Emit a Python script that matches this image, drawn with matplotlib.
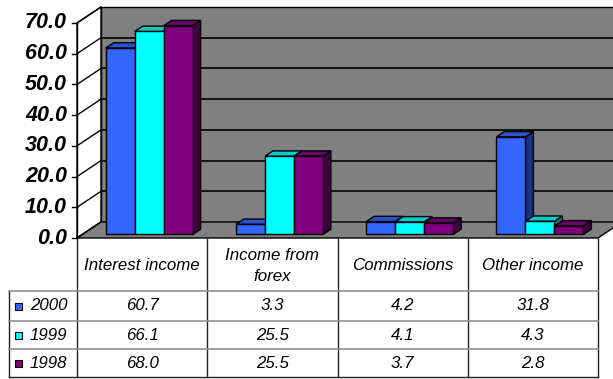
import matplotlib
matplotlib.use('Agg')
import matplotlib.pyplot as plt
from matplotlib.patches import Polygon, Rectangle
from matplotlib.transforms import ScaledTranslation
from matplotlib.colors import to_rgb

plt.rcParams['font.family'] = ['Liberation Sans', 'DejaVu Sans']

# Income structure, % of total
categories = ['Interest income', 'Income from\nforex', 'Commissions', 'Other income']
years = ['2000', '1999', '1998']
values_2000 = [60.7, 3.3, 4.2, 31.8]
values_1999 = [66.1, 25.5, 4.1, 4.3]
values_1998 = [68.0, 25.5, 3.7, 2.8]
y_ticks = [0, 10, 20, 30, 40, 50, 60, 70]

series = [values_2000, values_1999, values_1998]
colors = ['#3366FF', '#00FFFF', '#800080']
WALL = '#808080'


def shade(color, k):
    r, g, b = to_rgb(color)
    return (r * k, g * k, b * k)


W, H = 613, 379
fig = plt.figure(figsize=(W / 100, H / 100), dpi=100)

# front plane of the 3d box, in pixels: x 77..598, y 23..238
left, right, top, bottom = 77, 598, 23, 238
ax = fig.add_axes([left / W, 1 - bottom / H, (right - left) / W, (bottom - top) / H])
ax.set_xlim(0, len(categories))
ax.set_ylim(0, 70)
ax.axis('off')

col_px = (right - left) / len(categories)
DX = 24 / col_px            # depth offset in category units
DY = 16 / (bottom - top) * 70  # depth offset in value units


def poly(pts, fc, ec='black', lw=1.0, z=1):
    ax.add_patch(Polygon(pts, closed=True, facecolor=fc, edgecolor=ec,
                         linewidth=lw, clip_on=False, zorder=z,
                         joinstyle='miter'))


n = len(categories)
# walls and floor
poly([(DX, DY), (n + DX, DY), (n + DX, 70 + DY), (DX, 70 + DY)], WALL)
poly([(0, 0), (DX, DY), (DX, 70 + DY), (0, 70)], 'white')
poly([(0, 0), (n, 0), (n + DX, DY), (DX, DY)], WALL)

for v in y_ticks[1:-1]:
    ax.plot([DX, n + DX], [v + DY, v + DY], color='black', lw=1.2,
            clip_on=False, zorder=2)
for v in y_ticks:
    ax.plot([0, DX], [v, v + DY], color='black', lw=1.0, clip_on=False, zorder=2)
    ax.plot([-5 / col_px, 0], [v, v], color='black', lw=1.0, clip_on=False, zorder=2)
    off = ScaledTranslation(-10 / 100, 0, fig.dpi_scale_trans)
    ax.text(0, v, f'{v:.1f}', transform=ax.transData + off, ha='right',
            va='center', fontsize=15.5, fontweight='bold', style='italic')
ax.plot([0, 0], [0, 70], color='black', lw=1.0, clip_on=False, zorder=2)

# 3d columns
start, w = 0.18, 29 / col_px
d0, d1 = 0.22, 0.55
for j in range(n):
    for i, vals in enumerate(series):
        v = vals[j]
        x0 = j + start + i * w
        fx, fy = x0 + d0 * DX, d0 * DY
        bx, by = x0 + d1 * DX, d1 * DY
        c = colors[i]
        poly([(fx + w, fy), (bx + w, by), (bx + w, v + by), (fx + w, v + fy)],
             shade(c, 0.5), z=3)
        poly([(fx, v + fy), (fx + w, v + fy), (bx + w, v + by), (bx, v + by)],
             shade(c, 0.8), z=3)
        poly([(fx, fy), (fx + w, fy), (fx + w, v + fy), (fx, v + fy)], c, z=3)

# data table below the chart
tab = fig.add_axes([0, 0, 1, 1], zorder=-1)
tab.set_xlim(0, W)
tab.set_ylim(H, 0)
tab.axis('off')

row_edges = [239, 291, 321, 349, 377]
col_edges = [left + k * col_px for k in range(n + 1)]
label_left = 9

for x in col_edges:
    tab.plot([x, x], [row_edges[0], row_edges[-1]], color='#202020', lw=1.0)
tab.plot([label_left, label_left], [row_edges[1], row_edges[-1]], color='#202020', lw=1.0)
for y in row_edges[1:-1]:
    tab.plot([label_left, right], [y, y], color='#909090', lw=1.2)
tab.plot([label_left, right], [row_edges[-1], row_edges[-1]], color='#202020', lw=1.0)

txt = dict(fontsize=12.2, style='italic', color='black')
hy = (row_edges[0] + row_edges[1]) / 2
for k, cat in enumerate(categories):
    tab.text((col_edges[k] + col_edges[k + 1]) / 2, hy + 1, cat, ha='center',
             va='center', linespacing=1.45, **txt)

for i, (yr, vals) in enumerate(zip(years, series)):
    yc = (row_edges[i + 1] + row_edges[i + 2]) / 2
    tab.add_patch(Rectangle((15, yc - 3.5), 7, 7, facecolor=colors[i],
                            edgecolor='black', lw=0.8))
    tab.text(30, yc, yr, ha='left', va='center', **txt)
    for k, v in enumerate(vals):
        tab.text((col_edges[k] + col_edges[k + 1]) / 2, yc, f'{v:.1f}',
                 ha='center', va='center', **txt)

fig.savefig('out.png', dpi=100)
